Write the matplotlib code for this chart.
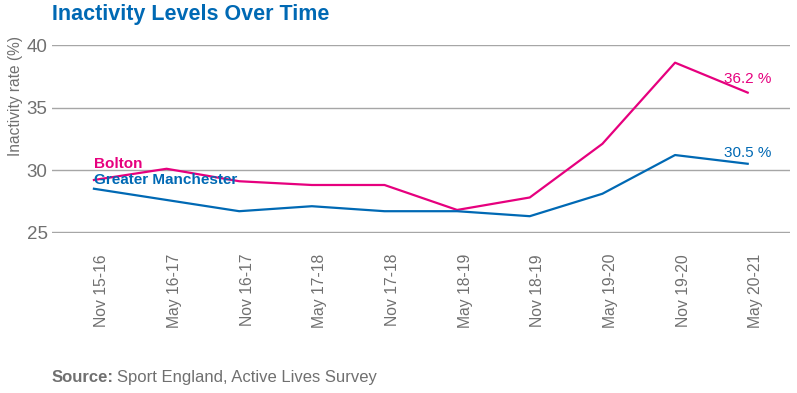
import matplotlib.pyplot as plt
from matplotlib.transforms import ScaledTranslation

plt.rcParams['font.family'] = ['Liberation Sans', 'DejaVu Sans']

# data
periods = ["Nov 15-16", "May 16-17", "Nov 16-17", "May 17-18", "Nov 17-18",
           "May 18-19", "Nov 18-19", "May 19-20", "Nov 19-20", "May 20-21"]
bolton = [29.2, 30.1, 29.1, 28.8, 28.8, 26.8, 27.8, 32.1, 38.6, 36.2]
greater_manchester = [28.5, 27.6, 26.7, 27.1, 26.7, 26.7, 26.3, 28.1, 31.2, 30.5]

pink = '#E6007E'
blue = '#0069B4'
grey = '#707070'

fig = plt.figure(figsize=(7.97, 3.93), dpi=100)
ax = fig.add_axes([0.065, 0.407, 0.926, 0.478])

x = range(len(periods))
ax.plot(x, bolton, color=pink, lw=1.6)
ax.plot(x, greater_manchester, color=blue, lw=1.6)

ax.set_ylim(24.95, 40)
ax.set_xlim(-0.58, 9.58)
ax.set_yticks([25, 30, 35, 40])
ax.grid(axis='y', color='#a6a6a6', lw=1)
ax.set_axisbelow(True)
for s in ax.spines.values():
    s.set_visible(False)
ax.tick_params(axis='both', length=0, colors=grey)
ax.tick_params(axis='y', labelsize=13.5, pad=3)
ax.set_xticks(list(x))
ax.set_xticklabels(periods, rotation=90, fontsize=11.3)
ax.tick_params(axis='x', pad=15)
# labels sit a little right of their points in the original
shift = ScaledTranslation(8 / 100, 0, fig.dpi_scale_trans)
for lab in ax.get_xticklabels():
    lab.set_transform(lab.get_transform() + shift)

fig.text(0.019, 0.755, "Inactivity rate (%)", color=grey, fontsize=11.2,
         rotation=90, ha='center', va='center')

# series labels
ax.text(0, 30.45, "Bolton", color=pink, fontsize=11, fontweight='bold', va='center')
ax.text(0, 29.2, "Greater Manchester", color=blue, fontsize=11, fontweight='bold', va='center')
ax.text(9, 37.3, f"{bolton[-1]} %", color=pink, fontsize=11, ha='center', va='center')
ax.text(9, 31.4, f"{greater_manchester[-1]} %", color=blue, fontsize=11, ha='center', va='center')

fig.text(0.065, 0.963, "Inactivity Levels Over Time", color=blue, fontsize=15.5,
         fontweight='bold', va='center')
t = fig.text(0.065, 0.04, "Source:", color=grey, fontsize=12, fontweight='bold', va='center')
fig.canvas.draw()
bb = t.get_window_extent()
fig.text(bb.x1 / fig.bbox.width + 0.004, 0.04, "Sport England, Active Lives Survey",
         color=grey, fontsize=12, va='center')

fig.savefig("out.png", dpi=100)
